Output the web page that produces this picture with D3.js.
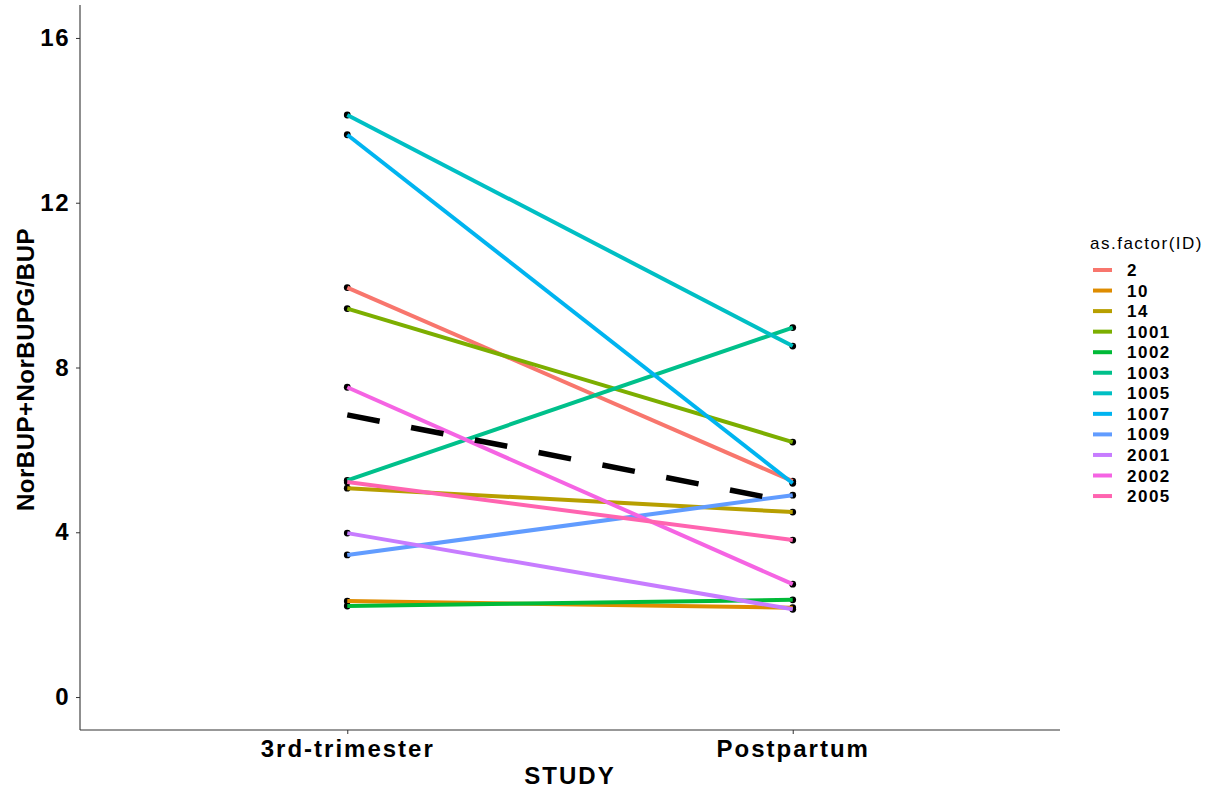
<!DOCTYPE html>
<html>
<head>
<meta charset="utf-8">
<script src="https://cdn.jsdelivr.net/npm/d3@7"></script>
<style>
  html, body { margin: 0; padding: 0; background: #fff; }
  svg { display: block; font-family: "Liberation Sans", Arial, sans-serif; }
</style>
</head>
<body>
<svg id="chart" width="1213" height="790"></svg>
<script>
// Study visits (x categories)
const visits = ["3rd-trimester", "Postpartum"];
// Subject IDs, in legend order
const ids = ["2", "10", "14", "1001", "1002", "1003", "1005", "1007", "1009", "2001", "2002", "2005"];
// NorBUP+NorBUPG/BUP ratio at each visit, one entry per ID
const trimesterValues  = [9.94, 2.33, 5.07, 9.43, 2.21, 5.26, 14.13, 13.65, 3.45, 3.98, 7.52, 5.22];
const postpartumValues = [5.24, 2.17, 4.49, 6.19, 2.36, 8.97, 8.52, 5.19, 4.90, 2.13, 2.74, 3.81];
// Tick labels on the y axis
const yTicks = [0, 4, 8, 12, 16];
// Discrete hue palette, one colour per ID
const palette = ["#F8766D", "#DE8C00", "#B79F00", "#7CAE00", "#00BA38", "#00C08B",
                 "#00BFC4", "#00B4F0", "#619CFF", "#C77CFF", "#F564E3", "#FF64B0"];

const svg = d3.select("#chart");
const margin = { left: 80, right: 1060, top: 5, bottom: 730 };

const x = d3.scalePoint().domain(visits).range([margin.left, margin.right]).padding(0.6);
const y = d3.scaleLinear().domain([-0.8, 16.8]).range([margin.bottom, margin.top]);
const color = d3.scaleOrdinal().domain(ids).range(palette);

const series = ids.map((id, i) => ({
  id,
  values: [
    { visit: visits[0], v: trimesterValues[i] },
    { visit: visits[1], v: postpartumValues[i] }
  ]
}));
const meanSeries = [
  { visit: visits[0], v: d3.mean(trimesterValues) },
  { visit: visits[1], v: d3.mean(postpartumValues) }
];

const line = d3.line().x(d => x(d.visit)).y(d => y(d.v));

// Axes
const yAxis = svg.append("g")
  .attr("transform", `translate(${margin.left},0)`)
  .call(d3.axisLeft(y).tickValues(yTicks).tickSize(4).tickPadding(6));
yAxis.select(".domain").attr("stroke", "#333").attr("stroke-width", 1.1)
  .attr("d", `M0,${margin.top}V${margin.bottom}`);
yAxis.selectAll(".tick line").attr("stroke", "#333");
yAxis.selectAll(".tick text").attr("font-size", 24).attr("font-weight", "bold")
  .attr("letter-spacing", 1.5).attr("fill", "#000");

const xAxis = svg.append("g")
  .attr("transform", `translate(0,${margin.bottom})`)
  .call(d3.axisBottom(x).tickSize(4).tickPadding(6));
xAxis.select(".domain").attr("stroke", "#333").attr("stroke-width", 1.1)
  .attr("d", `M${margin.left},0H${margin.right}`);
xAxis.selectAll(".tick line").attr("stroke", "#333");
xAxis.selectAll(".tick text").attr("font-size", 24).attr("font-weight", "bold")
  .attr("letter-spacing", 2).attr("fill", "#000");

// Axis titles
svg.append("text")
  .attr("x", (margin.left + margin.right) / 2).attr("y", 784)
  .attr("text-anchor", "middle").attr("font-size", 24).attr("font-weight", "bold")
  .attr("letter-spacing", 2)
  .text("STUDY");
svg.append("text")
  .attr("transform", `translate(34,${(margin.top + margin.bottom) / 2 + 2}) rotate(-90)`)
  .attr("text-anchor", "middle").attr("font-size", 24).attr("font-weight", "bold")
  .attr("letter-spacing", 0.5)
  .text("NorBUP+NorBUPG/BUP");

// Endpoint markers
const pts = series.flatMap(s => s.values);
svg.append("g").selectAll("circle").data(pts).join("circle")
  .attr("cx", d => x(d.visit)).attr("cy", d => y(d.v)).attr("r", 3.4)
  .attr("fill", "#000");

// Per-ID lines
svg.append("g").selectAll("path").data(series).join("path")
  .attr("d", d => line(d.values))
  .attr("fill", "none")
  .attr("stroke", d => color(d.id))
  .attr("stroke-width", 4);

// Mean trend (dashed)
svg.append("path")
  .attr("d", line(meanSeries))
  .attr("fill", "none")
  .attr("stroke", "#000")
  .attr("stroke-width", 5.5)
  .attr("stroke-dasharray", "33,32");

// Legend
const legend = svg.append("g").attr("transform", "translate(1090,0)");
legend.append("text").attr("x", 0).attr("y", 249).attr("font-size", 17)
  .attr("letter-spacing", 1.5).text("as.factor(ID)");
const items = legend.selectAll("g.item").data(ids).join("g")
  .attr("class", "item")
  .attr("transform", (d, i) => `translate(0,${270 + i * 20.55})`);
items.append("line").attr("x1", 3).attr("x2", 22).attr("y1", 0).attr("y2", 0)
  .attr("stroke", d => color(d)).attr("stroke-width", 4);
items.append("text").attr("x", 37).attr("y", 6).attr("font-size", 17).attr("font-weight", "bold")
  .attr("letter-spacing", 1.5)
  .text(d => d);
</script>
</body>
</html>
